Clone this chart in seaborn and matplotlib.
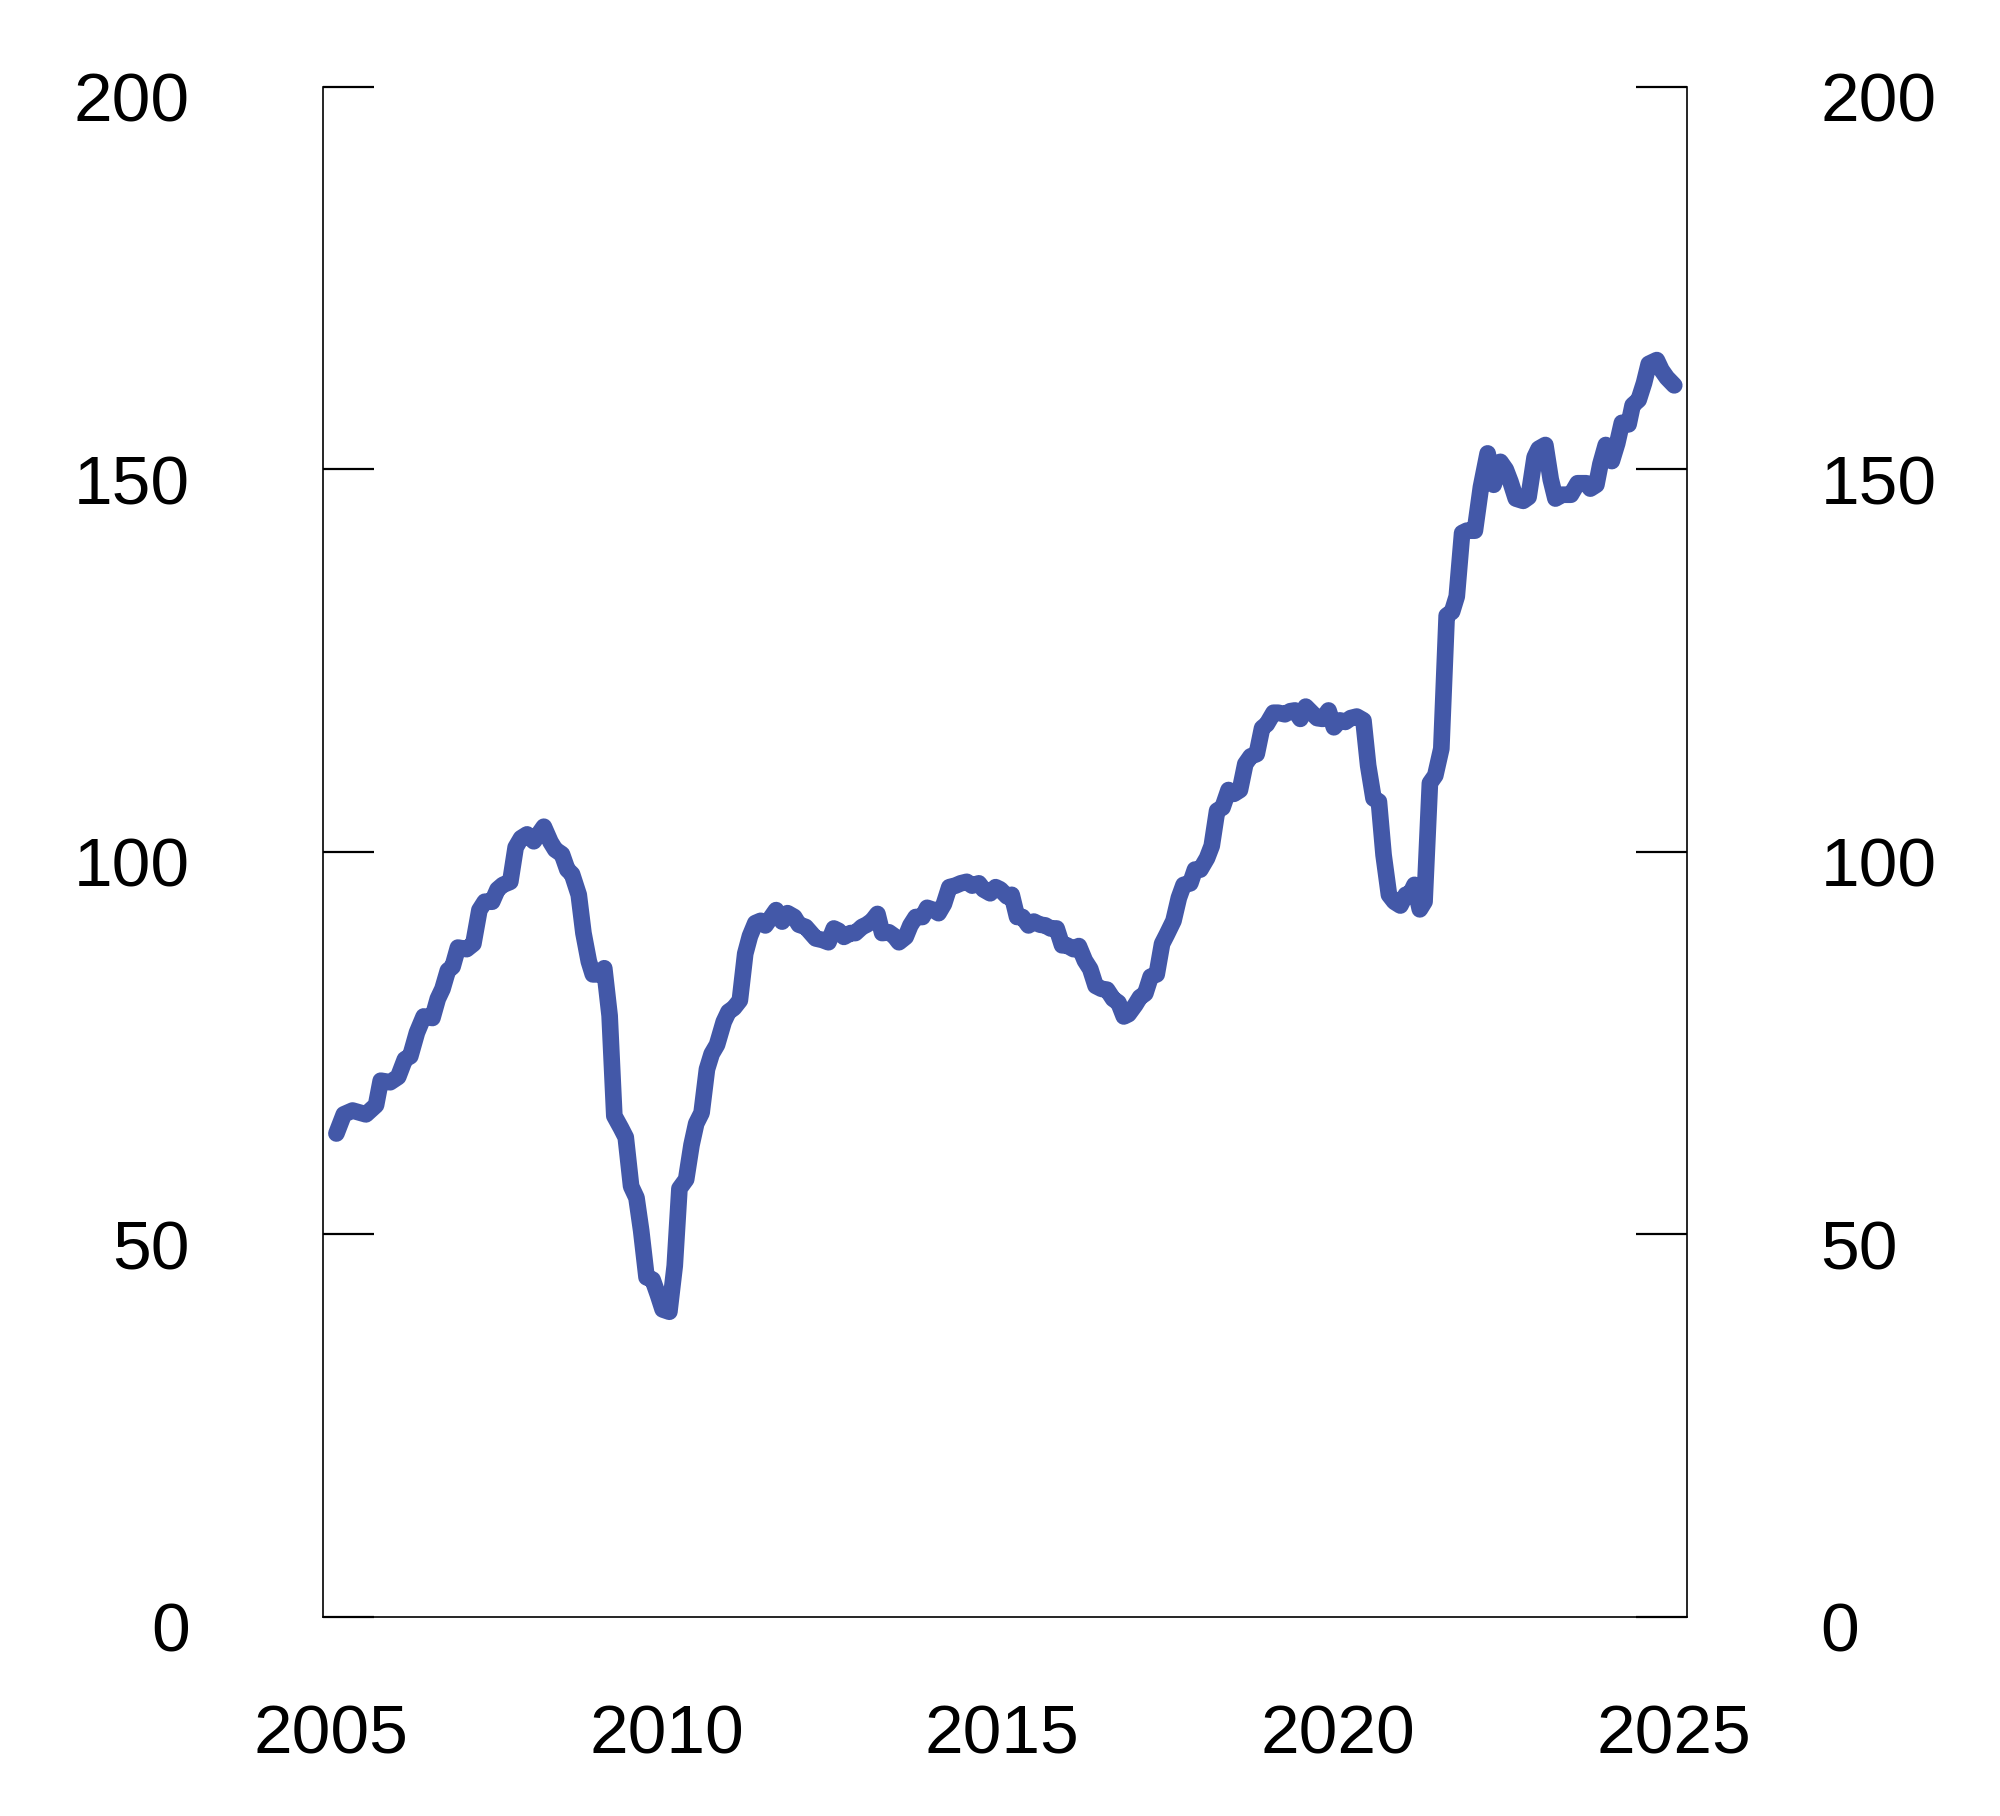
import numpy as np
import pandas as pd
import matplotlib.pyplot as plt
import matplotlib.transforms as mtransforms
import seaborn as sns

# Tidspunkt (desimalår) og verdier lest av figuren
tid = [
    2005.08, 2005.19, 2005.32, 2005.52, 2005.67, 2005.74, 2005.88, 2006.00, 2006.10, 2006.18,
    2006.28, 2006.38, 2006.51, 2006.59, 2006.66, 2006.74, 2006.81, 2006.89, 2007.02, 2007.12,
    2007.21, 2007.29, 2007.40, 2007.48, 2007.56, 2007.67, 2007.75, 2007.83, 2007.92, 2008.02,
    2008.09, 2008.17, 2008.27, 2008.34, 2008.44, 2008.52, 2008.59, 2008.69, 2008.76, 2008.84,
    2008.90, 2008.97, 2009.07, 2009.15, 2009.22, 2009.32, 2009.39, 2009.47, 2009.55, 2009.62,
    2009.70, 2009.79, 2009.87, 2009.94, 2010.04, 2010.12, 2010.19, 2010.29, 2010.37, 2010.44,
    2010.52, 2010.60, 2010.67, 2010.75, 2010.85, 2010.92, 2011.00, 2011.09, 2011.17, 2011.24,
    2011.32, 2011.40, 2011.47, 2011.55, 2011.63, 2011.72, 2011.80, 2011.90, 2011.97, 2012.07,
    2012.14, 2012.22, 2012.32, 2012.41, 2012.49, 2012.56, 2012.64, 2012.74, 2012.81, 2012.91,
    2012.98, 2013.06, 2013.14, 2013.21, 2013.31, 2013.39, 2013.46, 2013.56, 2013.63, 2013.71,
    2013.81, 2013.88, 2013.98, 2014.05, 2014.13, 2014.21, 2014.30, 2014.38, 2014.47, 2014.55,
    2014.65, 2014.72, 2014.82, 2014.90, 2014.97, 2015.07, 2015.14, 2015.22, 2015.30, 2015.39,
    2015.47, 2015.56, 2015.64, 2015.72, 2015.81, 2015.89, 2015.96, 2016.06, 2016.14, 2016.23,
    2016.31, 2016.39, 2016.48, 2016.56, 2016.65, 2016.73, 2016.81, 2016.88, 2016.98, 2017.05,
    2017.13, 2017.21, 2017.30, 2017.38, 2017.45, 2017.55, 2017.63, 2017.70, 2017.80, 2017.87,
    2017.95, 2018.05, 2018.12, 2018.20, 2018.28, 2018.37, 2018.45, 2018.54, 2018.62, 2018.70,
    2018.79, 2018.87, 2018.94, 2019.04, 2019.11, 2019.21, 2019.29, 2019.36, 2019.44, 2019.52,
    2019.61, 2019.69, 2019.77, 2019.86, 2019.94, 2020.03, 2020.11, 2020.19, 2020.28, 2020.38,
    2020.45, 2020.53, 2020.61, 2020.68, 2020.76, 2020.84, 2020.93, 2021.01, 2021.08, 2021.14,
    2021.22, 2021.29, 2021.37, 2021.45, 2021.54, 2021.62, 2021.70, 2021.77, 2021.85, 2021.92,
    2022.04, 2022.13, 2022.23, 2022.32, 2022.42, 2022.50, 2022.57, 2022.65, 2022.76, 2022.84,
    2022.93, 2022.99, 2023.09, 2023.17, 2023.24, 2023.34, 2023.47, 2023.57, 2023.70, 2023.76,
    2023.85, 2023.91, 2023.99, 2024.08, 2024.16, 2024.23, 2024.33, 2024.39, 2024.48, 2024.56,
    2024.63, 2024.75, 2024.82, 2024.90, 2025.01,
]
verdi = [
    63.2, 65.7, 66.2, 65.7, 66.9, 70.1, 69.9, 70.6, 72.9, 73.3,
    76.4, 78.5, 78.3, 80.8, 82.1, 84.5, 85.0, 87.5, 87.3, 88.0,
    92.4, 93.5, 93.5, 95.1, 95.7, 96.1, 100.6, 101.8, 102.3, 101.4,
    102.3, 103.3, 101.3, 100.3, 99.7, 97.7, 97.1, 94.4, 89.4, 85.7,
    84.0, 84.0, 84.8, 78.6, 65.5, 63.9, 62.7, 56.3, 54.8, 50.5,
    44.4, 44.1, 42.1, 40.2, 39.9, 45.9, 56.0, 57.2, 61.7, 64.5,
    65.9, 71.6, 73.6, 74.8, 77.8, 79.1, 79.6, 80.6, 86.7, 89.0,
    90.7, 91.0, 90.4, 91.4, 92.4, 90.9, 92.0, 91.5, 90.5, 90.2,
    89.5, 88.7, 88.5, 88.2, 90.0, 89.7, 88.9, 89.4, 89.4, 90.2,
    90.5, 91.0, 91.9, 89.4, 89.5, 89.0, 88.2, 88.9, 90.4, 91.5,
    91.5, 92.7, 92.4, 92.0, 93.2, 95.4, 95.6, 95.9, 96.1, 95.6,
    95.9, 95.1, 94.6, 95.4, 95.1, 94.2, 94.4, 91.5, 91.5, 90.4,
    90.9, 90.5, 90.4, 90.0, 90.0, 87.8, 87.8, 87.3, 87.7, 85.8,
    84.7, 82.5, 82.1, 82.0, 80.8, 80.3, 78.5, 78.8, 80.0, 81.0,
    81.5, 83.7, 84.0, 88.0, 89.2, 91.0, 94.0, 95.7, 95.9, 97.7,
    97.7, 99.2, 100.8, 105.4, 105.8, 108.1, 107.6, 108.1, 111.5, 112.5,
    112.8, 116.2, 116.7, 118.2, 118.2, 118.0, 118.4, 118.5, 117.4, 119.0,
    118.2, 117.5, 117.4, 118.5, 116.3, 117.2, 117.0, 117.5, 117.7, 117.2,
    111.3, 107.0, 106.6, 99.6, 94.4, 93.5, 93.0, 94.4, 94.6, 95.7,
    92.5, 93.5, 109.0, 110.0, 113.5, 130.9, 131.4, 133.4, 141.7, 142.0,
    142.0, 147.7, 152.1, 148.0, 151.0, 150.0, 148.4, 146.2, 145.9, 146.4,
    151.6, 152.7, 153.2, 148.7, 146.2, 146.7, 146.7, 148.2, 148.2, 147.5,
    148.0, 150.7, 153.2, 151.1, 153.4, 156.1, 155.9, 158.4, 159.1, 161.3,
    163.8, 164.3, 163.0, 162.0, 161.0,
]
x_ticks = [2005, 2010, 2015, 2020, 2025]
y_ticks = [0, 50, 100, 150, 200]

df = pd.DataFrame({"tid": tid, "verdi": verdi})

sns.set_style("white")
plt.rcParams["font.family"] = ["Liberation Sans", "DejaVu Sans"]

fig = plt.figure(figsize=(10, 9.08), dpi=200)
ax = fig.add_axes([0.1615, 0.1096, 0.682, 0.8425])

sns.lineplot(data=df, x="tid", y="verdi", ax=ax, color="#4358A8", linewidth=6.0,
             estimator=None, sort=False, solid_capstyle="round", solid_joinstyle="round")

ax.set_xlim(2004.88, 2025.2)
ax.set_ylim(0, 200)
ax.set_xticks(x_ticks)
ax.set_xticklabels([str(t) for t in x_ticks])
ax.set_yticks(y_ticks)
ax.set_yticklabels([str(t) for t in y_ticks])
ax.set_xlabel("")
ax.set_ylabel("")

for side in ["left", "right", "bottom"]:
    ax.spines[side].set_visible(True)
    ax.spines[side].set_linewidth(0.6)
    ax.spines[side].set_color("black")
ax.spines["top"].set_visible(False)

ax.tick_params(axis="y", which="both", direction="in", length=18.5, width=0.8,
               left=True, right=True, labelleft=True, labelright=True,
               pad=48, labelsize=25, colors="black")
ax.tick_params(axis="x", length=0, pad=31, labelsize=25, colors="black")

# flytt y-etikettene litt ned (både venstre og høyre)
offset = mtransforms.ScaledTranslation(0, -3.5 / 72, fig.dpi_scale_trans)
for tick in ax.yaxis.get_major_ticks():
    tick.label1.set_transform(tick.label1.get_transform() + offset)
    tick.label2.set_transform(tick.label2.get_transform() + offset)

ax.grid(False)
fig.savefig("out.png", dpi=200, facecolor="white")
